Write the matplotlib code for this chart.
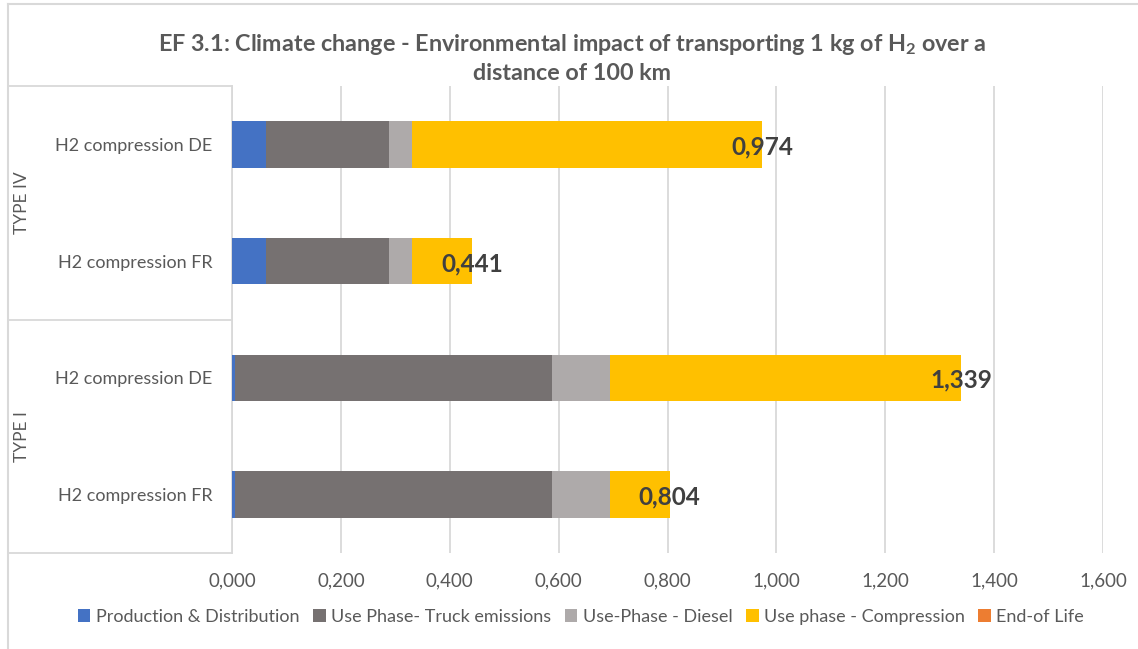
import matplotlib
matplotlib.use("Agg")
import matplotlib.pyplot as plt
import matplotlib.transforms as mtransforms
from matplotlib.lines import Line2D
from matplotlib.patches import Patch
from matplotlib.ticker import FuncFormatter, MultipleLocator

plt.rcParams["font.family"] = ["Lato", "DejaVu Sans"]
plt.rcParams["mathtext.fontset"] = "custom"
plt.rcParams["mathtext.rm"] = "Lato"
plt.rcParams["mathtext.bf"] = "Lato:bold"

# Categories, bottom to top
categories = ["H2 compression FR", "H2 compression DE",
              "H2 compression FR", "H2 compression DE"]
groups = ["TYPE I", "TYPE IV"]

series_names = ["Production & Distribution", "Use Phase- Truck emissions",
                "Use-Phase - Diesel", "Use phase - Compression", "End-of Life"]
production = [0.006, 0.006, 0.063, 0.063]
truck = [0.581, 0.581, 0.226, 0.226]
diesel = [0.107, 0.107, 0.041, 0.041]
compression = [0.110, 0.645, 0.111, 0.644]
end_of_life = [0.0, 0.0, 0.0, 0.0]
totals = [0.804, 1.339, 0.441, 0.974]

colors = ["#4472C4", "#767171", "#AEAAAA", "#FFC000", "#ED7D31"]
grid_c = "#D9D9D9"
text_c = "#595959"

W, H = 1138, 649
fig = plt.figure(figsize=(W / 100, H / 100), dpi=100)
ax = fig.add_axes([232 / W, 1 - 553 / H, (1103 - 232) / W, (553 - 86) / H])

ypos = list(range(len(categories)))
left = [0.0] * len(categories)
for name, vals, col in zip(series_names,
                           [production, truck, diesel, compression, end_of_life],
                           colors):
    ax.barh(ypos, vals, left=left, height=0.4, color=col, label=name,
            edgecolor="none", zorder=3)
    left = [l + v for l, v in zip(left, vals)]

for y, t in zip(ypos, totals):
    ax.text(t, y - 0.02, f"{t:.3f}".replace(".", ","), ha="center", va="center",
            fontsize=17.5, fontweight="bold", color="#404040", zorder=5)

ax.set_xlim(0, 1.6)
ax.set_ylim(-0.5, 3.5)
ax.xaxis.set_major_locator(MultipleLocator(0.2))
ax.xaxis.set_major_formatter(FuncFormatter(lambda v, p: f"{v:.3f}".replace(".", ",")))
ax.grid(axis="x", color=grid_c, linewidth=1.3, zorder=0)
for s in ["top", "right", "bottom"]:
    ax.spines[s].set_visible(False)
ax.spines["left"].set_color(grid_c)
ax.spines["left"].set_linewidth(1.3)
ax.tick_params(axis="x", length=0, pad=14, labelsize=13.5, labelcolor=text_c)
ax.set_yticks(ypos)
ax.set_yticklabels(categories)
ax.tick_params(axis="y", length=0, pad=14, labelsize=13, labelcolor=text_c)

# Group boxes of the category axis
xfig_left = 8 / W
xfig_right = 232 / W
bt = mtransforms.blended_transform_factory(fig.transFigure, ax.transData)
for yb in [-0.5, 1.5, 3.5]:
    fig.add_artist(Line2D([xfig_left, xfig_right], [yb, yb], transform=bt,
                          color=grid_c, linewidth=1.3))
for g, yc in zip(groups, [0.5, 2.5]):
    fig.text(22 / W, yc, g, transform=bt, rotation=90, ha="center",
             va="center", fontsize=12.5, color=text_c)

# Chart frame
fig.add_artist(Line2D([8 / W, 1.0], [1 - 4 / H, 1 - 4 / H],
                      transform=fig.transFigure, color=grid_c, linewidth=1.5))
fig.add_artist(Line2D([8 / W, 8 / W], [0.0, 1 - 4 / H],
                      transform=fig.transFigure, color=grid_c, linewidth=1.5))

fig.text(572 / W, 1 - 58 / H,
         "EF 3.1: Climate change - Environmental impact of transporting 1 kg of H$_\\mathbf{2}$ over a\ndistance of 100 km",
         ha="center", va="center", fontsize=16.8, fontweight="bold",
         color=text_c, linespacing=1.3)

handles = [Patch(facecolor=c, edgecolor="none") for c in colors]
fig.legend(handles, series_names, loc="center", bbox_to_anchor=(581 / W, 1 - 617 / H),
           ncol=5, frameon=False, fontsize=13, labelcolor=text_c,
           handlelength=0.7, handleheight=0.7, handletextpad=0.3,
           columnspacing=0.75)

fig.savefig("out.png", dpi=100, facecolor="white")
